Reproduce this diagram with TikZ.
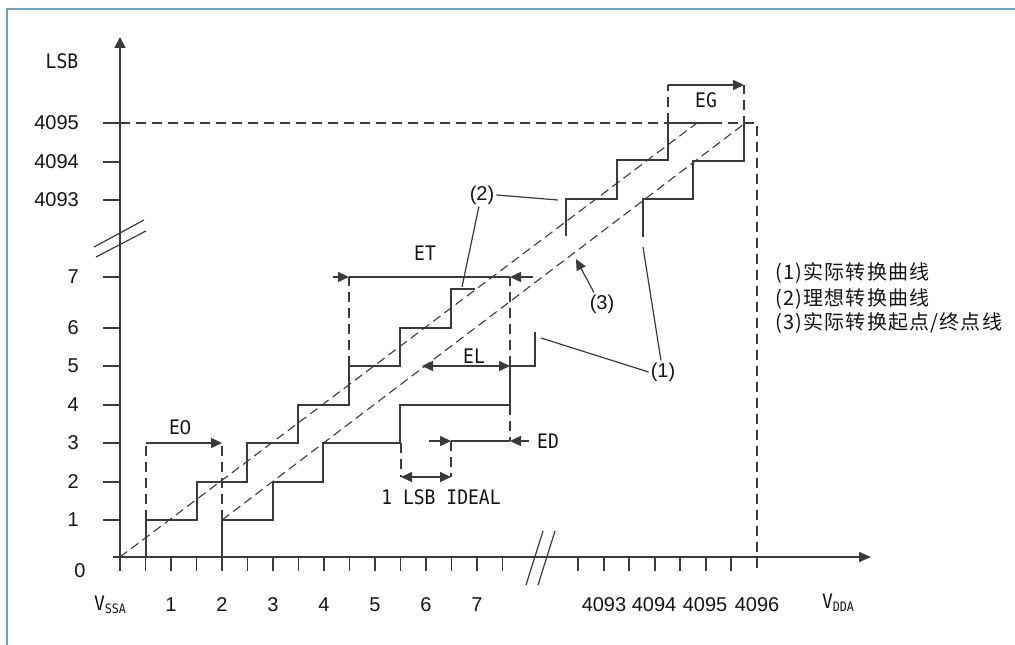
\documentclass[tikz,border=0pt]{standalone}
\usepackage{fontspec}
\setmainfont[FakeStretch=0.9]{DejaVu Sans Mono}
\newfontfamily\cjk[LetterSpace=6]{Noto Sans CJK SC}
\newfontfamily\labfont{Liberation Sans}
\usetikzlibrary{arrows.meta}
\definecolor{lncol}{RGB}{58,58,58}
\definecolor{txcol}{RGB}{20,20,20}
\definecolor{frcol}{RGB}{110,160,210}
\begin{document}
\begin{tikzpicture}[x=1bp,y=-1bp,
  ln/.style={draw=lncol, line width=1.5bp},
  thin/.style={draw=lncol, line width=1.2bp},
  dsh/.style={ln, dash pattern=on 10bp off 6bp},
  dia/.style={draw=lncol, line width=1.1bp, dash pattern=on 9bp off 5bp},
  arr/.style={-{Triangle[length=11bp,width=10bp]}},
  arrtwo/.style={{Triangle[length=11bp,width=10bp]}-{Triangle[length=11bp,width=10bp]}},
  txt/.style={font=\fontsize{20bp}{22bp}\selectfont, text=txcol, inner sep=0pt},
  num/.style={font=\labfont\fontsize{20bp}{22bp}\selectfont, text=txcol, inner sep=0pt},
  ptxt/.style={font=\labfont\fontsize{20bp}{22bp}\selectfont, text=txcol, inner sep=2bp},
  leg/.style={font=\cjk\fontsize{20bp}{22bp}\selectfont, text=txcol, inner sep=0pt, anchor=west}
]
\useasboundingbox (0,0) rectangle (1015,645);
% frame
\draw[frcol, line width=1.5bp] (7,645) -- (7,9) -- (1015,9);

% axes
\draw[ln, -{Triangle[length=11bp,width=11bp]}] (120,571) -- (120,37);
\draw[ln, -{Triangle[length=12bp,width=10bp]}] (113,557) -- (871,557);
\foreach \y in {123,162,200,277,328,366,405,443,482,520} \draw[ln] (103,\y) -- (120,\y);
\foreach \i in {1,...,15} \draw[ln] ({120+25.5*\i},557) -- ++(0,14);
\foreach \x in {578,604,629,655,680,706,731} \draw[ln] (\x,557) -- ++(0,14);
% breaks
\draw[thin] (94,247) -- (144,220);
\draw[thin] (96,257) -- (146,231);
\draw[thin] (526,585) -- (543,531);
\draw[thin] (538,585) -- (555,531);

% full scale dashed frame
\draw[dsh] (120,123) -- (757,123) -- (757,571);

% diagonals
\draw[dia] (120,557) -- (697,123);
\draw[dia] (222,520) -- (744,124);

% staircase A
\draw[ln] (146,557) |- (197,520) |- (247,482) |- (298,443) |- (349,405) |- (400,366) |- (451,328) |- (475,289);
\draw[ln] (566,236) |- (617,199) |- (668,160) |- (718,123);
% staircase B
\draw[ln] (222,557) |- (273,520) |- (323,482) |- (400,443) |- (510,405) |- (535,366) -- (535,332);
\draw[ln] (643,237) |- (693,199) |- (744,161) -- (744,126);

% dashed extension lines
\draw[dsh] (146,520) -- (146,443);
\draw[dsh] (222,520) -- (222,443);
\draw[dsh] (349,366) -- (349,277);
\draw[dsh] (510,366) -- (510,277);
\draw[dsh] (510,405) -- (510,441);
\draw[dsh] (401,443) -- (401,477);
\draw[dsh] (451,441) -- (451,477);
\draw[dsh] (668,123) -- (668,85);
\draw[dsh] (744,126) -- (744,85);

% dimension arrows
\draw[ln, arr] (146,443) -- (222,443);
\draw[ln] (349,277) -- (510,277);
\draw[ln, arr] (333,277) -- (349,277);
\draw[ln, arr] (533,277) -- (510,277);
\draw[ln, arrtwo] (422,366) -- (510,366);
\draw[ln] (451,441) -- (510,441);
\draw[ln, arr] (429,441) -- (451,441);
\draw[ln, arr] (529,441) -- (510,441);
\draw[ln, arrtwo] (401,477) -- (451,477);
\draw[ln, arr] (668,85) -- (744,85);

% axis labels
\node[txt] (lsb) at (62,61) {LSB};
\node[num, anchor=east] (y4095) at (79,123) {4095};
\node[num, anchor=east] (y4094) at (79,162) {4094};
\node[num, anchor=east] (y4093) at (79,200) {4093};
\node[num, anchor=east] (y7) at (79,277) {7};
\node[num, anchor=east] (y6) at (79,328) {6};
\node[num, anchor=east] (y5) at (79,366) {5};
\node[num, anchor=east] (y4) at (79,405) {4};
\node[num, anchor=east] (y3) at (79,443) {3};
\node[num, anchor=east] (y2) at (79,482) {2};
\node[num, anchor=east] (y1) at (79,520) {1};
\node[num] (y0) at (80,571) {0};
\node[txt] (vssa) at (110,605) {V\raisebox{-3bp}{\fontsize{13bp}{13bp}\selectfont SSA}};
\foreach \k in {1,...,7} \node[num] (x\k) at ({120+51*\k},605) {\k};
\node[num] (x4093) at (604,605) {4093};
\node[num] (x4094) at (654,605) {4094};
\node[num] (x4095) at (705,605) {4095};
\node[num] (x4096) at (757,605) {4096};
\node[txt] (vdda) at (838,603) {V\raisebox{-3bp}{\fontsize{13bp}{13bp}\selectfont DDA}};

% error labels
\node[txt] (e0) at (180,427) {E{\labfont 0}};
\node[txt] (et) at (425,253) {ET};
\node[txt] (el) at (474,356) {EL};
\node[txt] (ed) at (548,441) {ED};
\node[txt] (eg) at (706,100) {EG};
\node[txt] (ideal) at (441,497) {1 LSB IDEAL};

% callouts
\node[ptxt] (n2) at (482,195) {(2)};
\node[ptxt] (n3) at (602,304) {(3)};
\node[ptxt] (n1) at (663,372) {(1)};
\coordinate (a2lo) at (462,287);
\coordinate (a2hi) at (558,200);
\coordinate (b1lo) at (541,338);
\coordinate (b1hi) at (643,247);
\coordinate (d3) at (576,259);
\draw[thin] (n2.255) -- (a2lo);
\draw[thin] (n2.east) -- (a2hi);
\draw[thin] (n1.west) -- (b1lo);
\draw[thin] (n1.100) -- (b1hi);
\draw[thin, arr] (n3.125) -- (d3);

% legend
\node[leg] (l1) at (775,273) {(1)实际转换曲线};
\node[leg] (l2) at (775,299) {(2)理想转换曲线};
\node[leg] (l3) at (775,323) {(3)实际转换起点/终点线};
\end{tikzpicture}
\end{document}
